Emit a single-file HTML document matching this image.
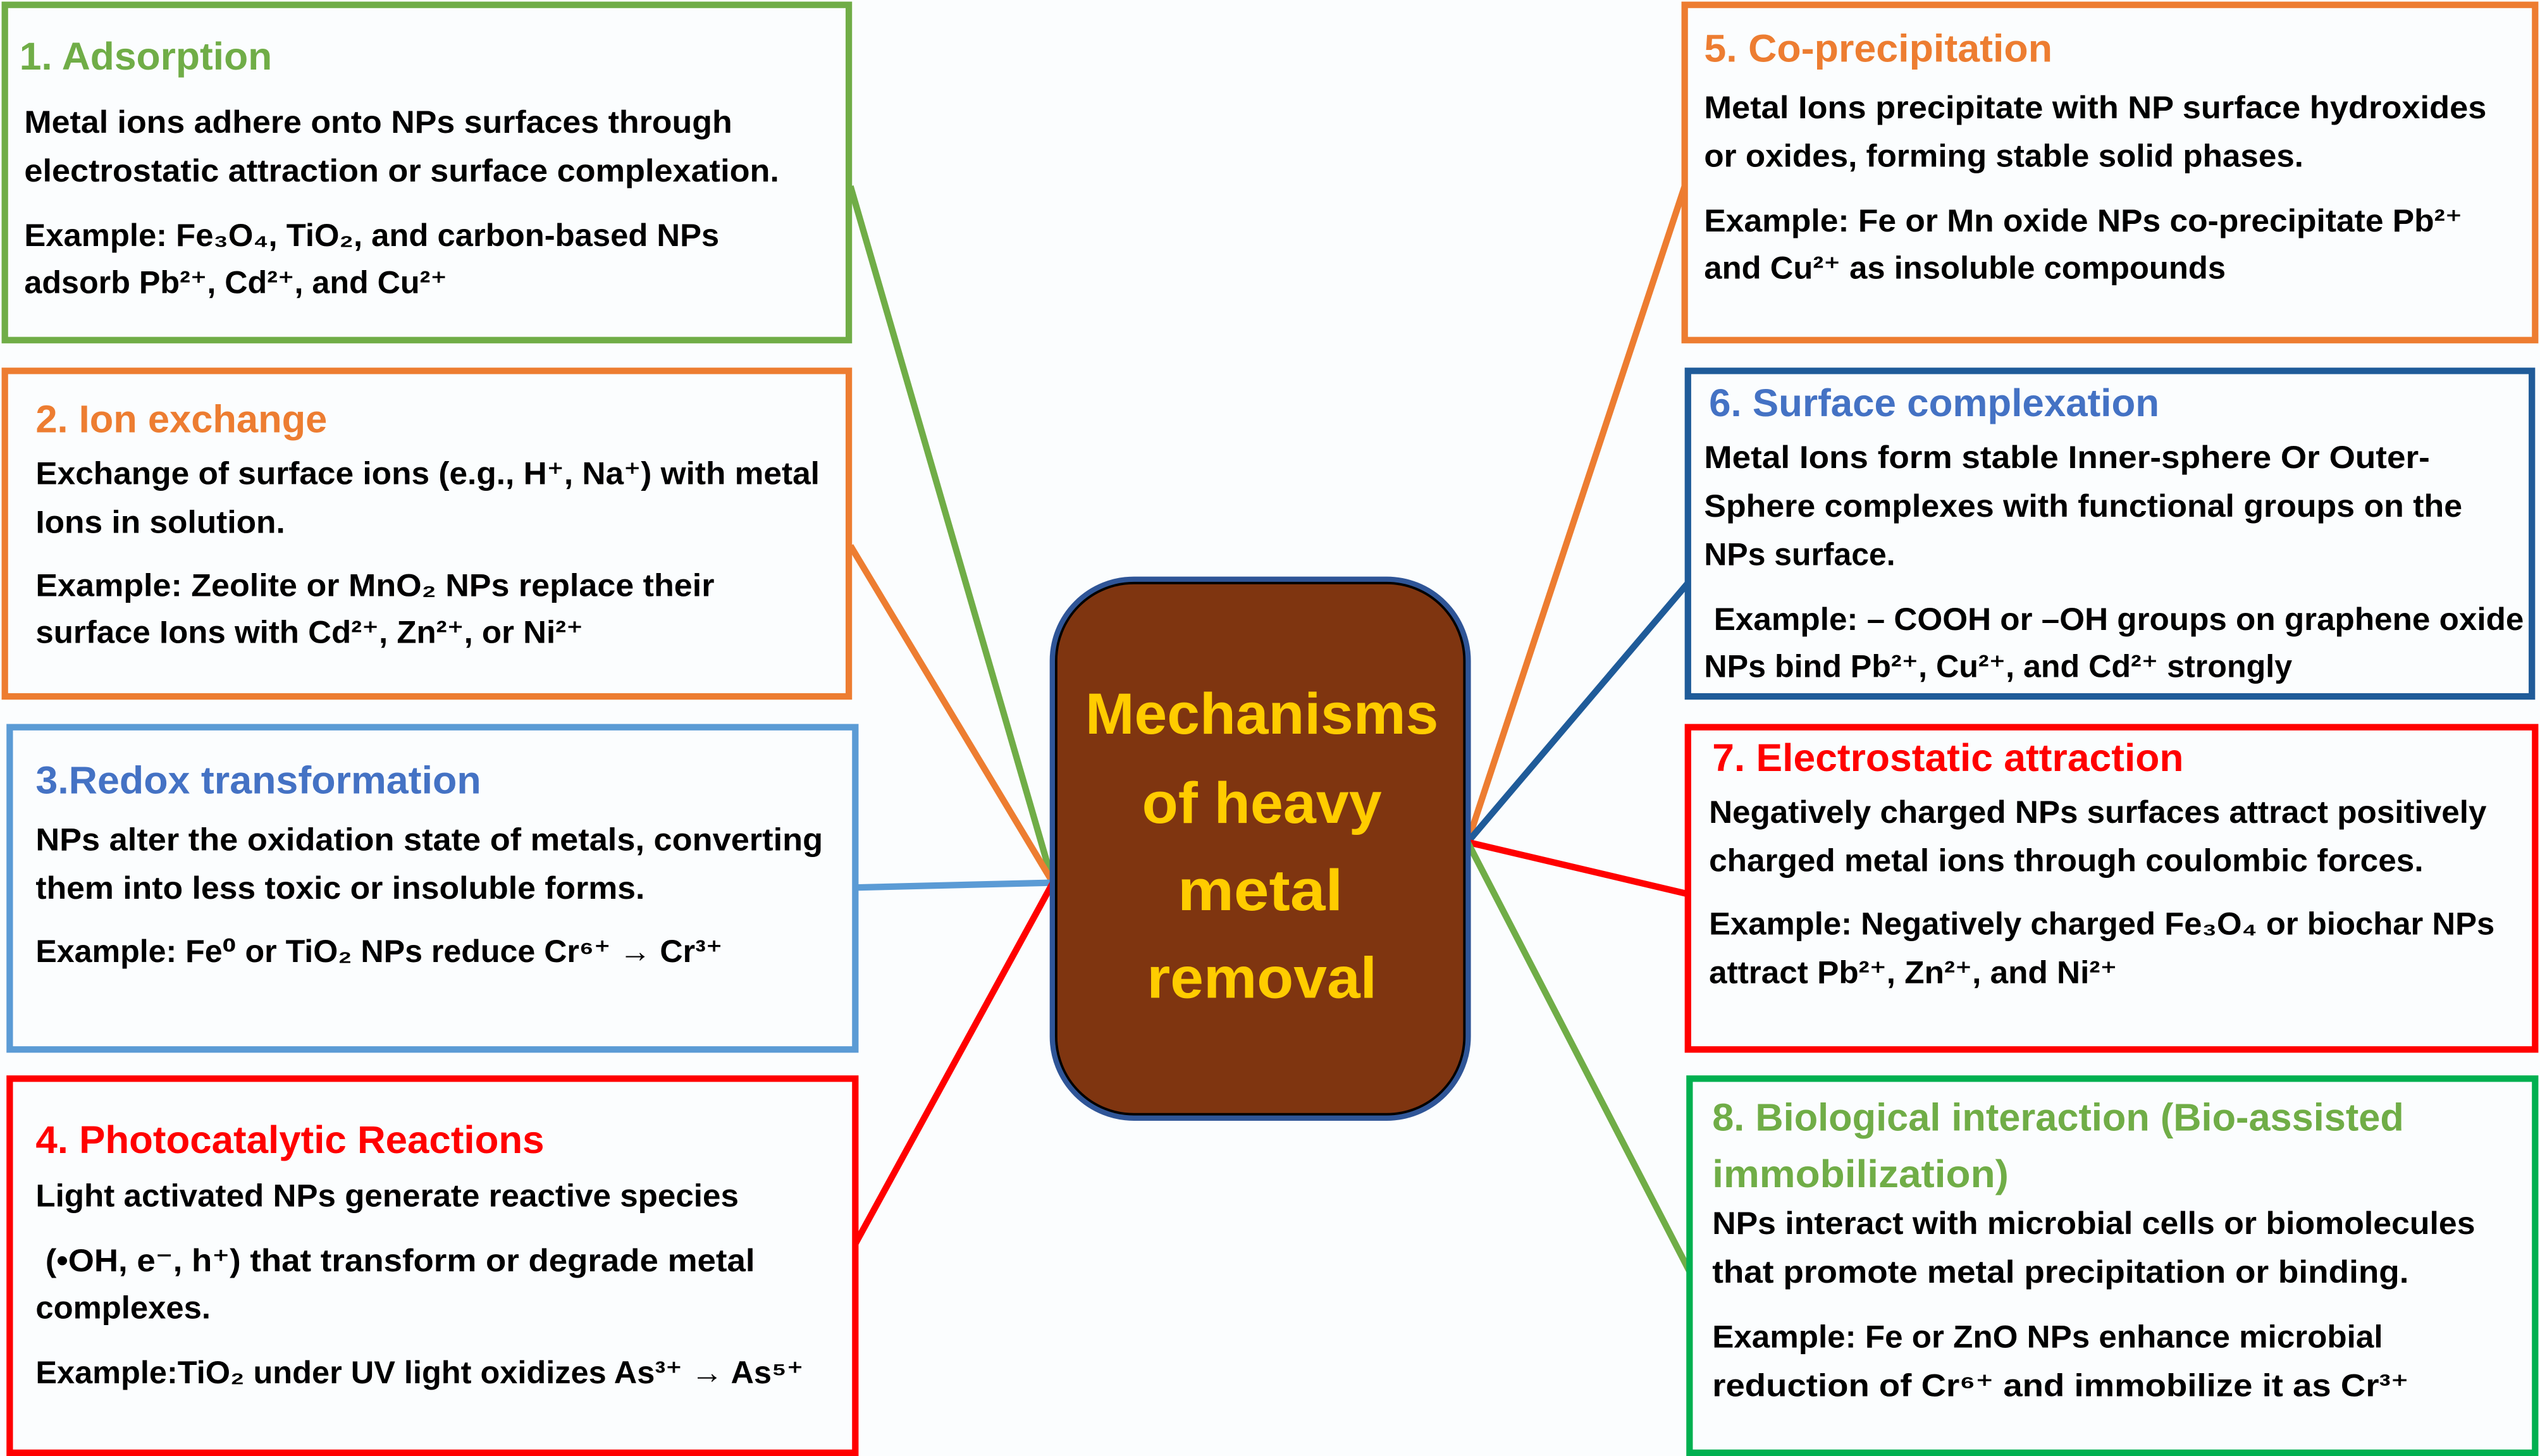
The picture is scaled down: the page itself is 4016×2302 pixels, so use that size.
<!DOCTYPE html>
<html><head><meta charset="utf-8"><style>
html,body{margin:0;padding:0;background:#fbfdfe;}
svg{display:block}
text{font-family:"Liberation Sans","DejaVu Sans",sans-serif;font-weight:bold;}
.b{font-size:19.5px;fill:#000}
.t{font-size:24px}
</style></head><body>
<svg width="4016" height="2302" viewBox="0 0 1568 899" preserveAspectRatio="none" xmlns="http://www.w3.org/2000/svg">
<rect x="0" y="0" width="1568" height="899" fill="#fbfdfe"/>
<g stroke-width="4" fill="none">
<line x1="650" y1="545" x2="525" y2="115" stroke="#70AD47"/>
<line x1="650" y1="545" x2="525" y2="337" stroke="#ED7D31"/>
<line x1="650" y1="545" x2="528" y2="548" stroke="#5B9BD5"/>
<line x1="650" y1="545" x2="528" y2="768" stroke="#FF0000"/>
<line x1="906" y1="520" x2="1040" y2="115" stroke="#ED7D31"/>
<line x1="906" y1="520" x2="1042" y2="360" stroke="#1F5B99"/>
<line x1="906" y1="520" x2="1042" y2="552" stroke="#FF0000"/>
<line x1="906" y1="520" x2="1043" y2="785" stroke="#70AD47"/>
</g>
<g stroke-width="4" fill="#fbfdfe">
<rect x="3" y="3" width="521" height="207" stroke="#70AD47"/>
<rect x="3" y="229" width="521" height="201" stroke="#ED7D31"/>
<rect x="6" y="449" width="522" height="199" stroke="#5B9BD5"/>
<rect x="6" y="666" width="522" height="231" stroke="#FF0000"/>
<rect x="1040" y="3" width="525" height="207" stroke="#ED7D31"/>
<rect x="1042" y="229" width="521" height="201" stroke="#1F5B99"/>
<rect x="1042" y="449" width="523" height="199" stroke="#FF0000"/>
<rect x="1043" y="666" width="522" height="231" stroke="#00B050"/>
</g>
<rect x="650" y="358" width="256" height="332" rx="50" ry="50" fill="#7F3510" stroke="#2F5597" stroke-width="4"/>
<rect x="652" y="360" width="252" height="328" rx="48" ry="48" fill="none" stroke="#000" stroke-width="1.5"/>
<g fill="#FFCC00" style="font-size:36px">
<text x="670" y="453" textLength="218" lengthAdjust="spacingAndGlyphs">Mechanisms</text>
<text x="705" y="508" textLength="148" lengthAdjust="spacingAndGlyphs">of heavy</text>
<text x="727" y="562" textLength="102" lengthAdjust="spacingAndGlyphs">metal</text>
<text x="708" y="616" textLength="142" lengthAdjust="spacingAndGlyphs">removal</text>
</g>
<text class="t" fill="#70AD47" x="12" y="43" textLength="156" lengthAdjust="spacingAndGlyphs">1. Adsorption</text>
<text class="b" x="15" y="82" textLength="437" lengthAdjust="spacingAndGlyphs">Metal ions adhere onto NPs surfaces through</text>
<text class="b" x="15" y="112" textLength="466" lengthAdjust="spacingAndGlyphs">electrostatic attraction or surface complexation.</text>
<text class="b" x="15" y="152" textLength="429" lengthAdjust="spacingAndGlyphs">Example: Fe₃O₄, TiO₂, and carbon-based NPs</text>
<text class="b" x="15" y="181" textLength="261" lengthAdjust="spacingAndGlyphs">adsorb Pb²⁺, Cd²⁺, and Cu²⁺</text>
<text class="t" fill="#ED7D31" x="22" y="267" textLength="180" lengthAdjust="spacingAndGlyphs">2. Ion exchange</text>
<text class="b" x="22" y="299" textLength="484" lengthAdjust="spacingAndGlyphs">Exchange of surface ions (e.g., H⁺, Na⁺) with metal</text>
<text class="b" x="22" y="329" textLength="154" lengthAdjust="spacingAndGlyphs">Ions in solution.</text>
<text class="b" x="22" y="368" textLength="419" lengthAdjust="spacingAndGlyphs">Example: Zeolite or MnO₂ NPs replace their</text>
<text class="b" x="22" y="397" textLength="338" lengthAdjust="spacingAndGlyphs">surface Ions with Cd²⁺, Zn²⁺, or Ni²⁺</text>
<text class="t" fill="#4472C4" x="22" y="490" textLength="275" lengthAdjust="spacingAndGlyphs">3.Redox transformation</text>
<text class="b" x="22" y="525" textLength="486" lengthAdjust="spacingAndGlyphs">NPs alter the oxidation state of metals, converting</text>
<text class="b" x="22" y="555" textLength="376" lengthAdjust="spacingAndGlyphs">them into less toxic or insoluble forms.</text>
<text class="b" x="22" y="594" textLength="424" lengthAdjust="spacingAndGlyphs">Example: Fe⁰ or TiO₂ NPs reduce Cr⁶⁺ → Cr³⁺</text>
<text class="t" fill="#FF0000" x="22" y="712" textLength="314" lengthAdjust="spacingAndGlyphs">4. Photocatalytic Reactions</text>
<text class="b" x="22" y="745" textLength="434" lengthAdjust="spacingAndGlyphs">Light activated NPs generate reactive species</text>
<text class="b" x="28" y="785" textLength="438" lengthAdjust="spacingAndGlyphs">(•OH, e⁻, h⁺) that transform or degrade metal</text>
<text class="b" x="22" y="814" textLength="108" lengthAdjust="spacingAndGlyphs">complexes.</text>
<text class="b" x="22" y="854" textLength="474" lengthAdjust="spacingAndGlyphs">Example:TiO₂ under UV light oxidizes As³⁺ → As⁵⁺</text>
<text class="t" fill="#ED7D31" x="1052" y="38" textLength="215" lengthAdjust="spacingAndGlyphs">5. Co-precipitation</text>
<text class="b" x="1052" y="73" textLength="483" lengthAdjust="spacingAndGlyphs">Metal Ions precipitate with NP surface hydroxides</text>
<text class="b" x="1052" y="103" textLength="370" lengthAdjust="spacingAndGlyphs">or oxides, forming stable solid phases.</text>
<text class="b" x="1052" y="143" textLength="468" lengthAdjust="spacingAndGlyphs">Example: Fe or Mn oxide NPs co-precipitate Pb²⁺</text>
<text class="b" x="1052" y="172" textLength="322" lengthAdjust="spacingAndGlyphs">and Cu²⁺ as insoluble compounds</text>
<text class="t" fill="#4472C4" x="1055" y="257" textLength="278" lengthAdjust="spacingAndGlyphs">6. Surface complexation</text>
<text class="b" x="1052" y="289" textLength="448" lengthAdjust="spacingAndGlyphs">Metal Ions form stable Inner-sphere Or Outer-</text>
<text class="b" x="1052" y="319" textLength="468" lengthAdjust="spacingAndGlyphs">Sphere complexes with functional groups on the</text>
<text class="b" x="1052" y="349" textLength="118" lengthAdjust="spacingAndGlyphs">NPs surface.</text>
<text class="b" x="1058" y="389" textLength="500" lengthAdjust="spacingAndGlyphs">Example: – COOH or –OH groups on graphene oxide</text>
<text class="b" x="1052" y="418" textLength="363" lengthAdjust="spacingAndGlyphs">NPs bind Pb²⁺, Cu²⁺, and Cd²⁺ strongly</text>
<text class="t" fill="#FF0000" x="1057" y="476" textLength="291" lengthAdjust="spacingAndGlyphs">7. Electrostatic attraction</text>
<text class="b" x="1055" y="508" textLength="480" lengthAdjust="spacingAndGlyphs">Negatively charged NPs surfaces attract positively</text>
<text class="b" x="1055" y="538" textLength="441" lengthAdjust="spacingAndGlyphs">charged metal ions through coulombic forces.</text>
<text class="b" x="1055" y="577" textLength="485" lengthAdjust="spacingAndGlyphs">Example: Negatively charged Fe₃O₄ or biochar NPs</text>
<text class="b" x="1055" y="607" textLength="252" lengthAdjust="spacingAndGlyphs">attract Pb²⁺, Zn²⁺, and Ni²⁺</text>
<text class="t" fill="#70AD47" x="1057" y="698" textLength="427" lengthAdjust="spacingAndGlyphs">8. Biological interaction (Bio-assisted</text>
<text class="t" fill="#70AD47" x="1057" y="733" textLength="183" lengthAdjust="spacingAndGlyphs">immobilization)</text>
<text class="b" x="1057" y="762" textLength="471" lengthAdjust="spacingAndGlyphs">NPs interact with microbial cells or biomolecules</text>
<text class="b" x="1057" y="792" textLength="430" lengthAdjust="spacingAndGlyphs">that promote metal precipitation or binding.</text>
<text class="b" x="1057" y="832" textLength="414" lengthAdjust="spacingAndGlyphs">Example: Fe or ZnO NPs enhance microbial</text>
<text class="b" x="1057" y="862" textLength="430" lengthAdjust="spacingAndGlyphs">reduction of Cr⁶⁺ and immobilize it as Cr³⁺</text>
</svg>
</body></html>
